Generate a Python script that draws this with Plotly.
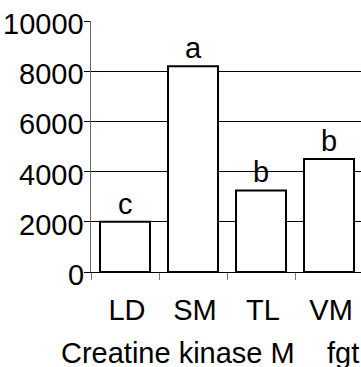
import plotly.graph_objects as go

# Creatine kinase M expression by muscle
muscles = ["LD", "SM", "TL", "VM"]
expression = [2000, 8200, 3250, 4500]
letters = ["c", "a", "b", "b"]
y_ticks = [0, 2000, 4000, 6000, 8000, 10000]
x_title = "Creatine kinase M\u00a0\u00a0\u00a0\u00a0fgt"

FONT = "Liberation Sans, Arial, sans-serif"
BIG = dict(family=FONT, size=29, color="black")

fig = go.Figure(
    go.Bar(
        x=muscles,
        y=expression,
        width=0.735,
        marker=dict(color="white", line=dict(color="black", width=2)),
        showlegend=False,
    )
)

# significance letters above each bar
for m, v, t in zip(muscles, expression, letters):
    fig.add_annotation(
        x=m, y=v, text=t, showarrow=False,
        yanchor="bottom", font=BIG,
    )

# y tick labels set tight against the tick marks
for v in y_ticks:
    fig.add_annotation(
        xref="paper", x=0, y=v, text=str(v), showarrow=False,
        xanchor="right", yanchor="middle", xshift=-5, yshift=-3,
        font=BIG,
    )

# axis title placed as a free annotation, left-aligned under the axis
fig.add_annotation(
    xref="paper", yref="paper", x=-0.12, y=0,
    xanchor="left", yanchor="middle", yshift=-81,
    text=x_title, showarrow=False, font=BIG,
)

fig.update_layout(
    width=361, height=367,
    margin=dict(l=91, r=0, t=21, b=95),
    paper_bgcolor="white", plot_bgcolor="white",
    font=BIG,
)

fig.update_xaxes(
    range=[-0.5, 3.47],
    showline=True, linecolor="black", linewidth=1,
    ticks="outside", tickson="boundaries", ticklen=7,
    tickcolor="#777", tickwidth=1,
    ticklabelshift=2, ticklabelstandoff=12,
    showgrid=False,
)

fig.update_yaxes(
    range=[0, 10000],
    tickvals=y_ticks, showticklabels=False,
    showline=True, linecolor="#666", linewidth=1,
    ticks="outside", ticklen=6, tickcolor="black",
    showgrid=True, gridcolor="black", gridwidth=1,
    zeroline=False,
)

fig.write_html("out.html")
